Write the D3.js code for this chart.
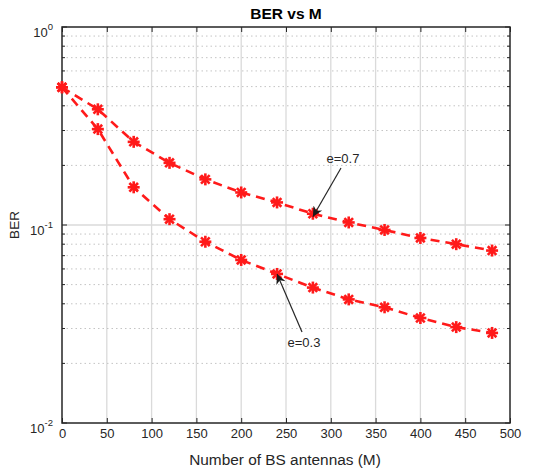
<!DOCTYPE html>
<html>
<head>
<meta charset="utf-8">
<script src="https://cdn.jsdelivr.net/npm/d3@7"></script>
<style>
  html, body { margin: 0; padding: 0; background: #fff; }
  svg { display: block; font-family: "Liberation Sans", Arial, sans-serif; }
</style>
</head>
<body>
<svg id="chart" width="534" height="474"></svg>
<script>
// Number of BS antennas
const antennas = [0, 40, 80, 120, 160, 200, 240, 280, 320, 360, 400, 440, 480];
// BER for each channel-estimation error level
const berE07 = [0.496, 0.384, 0.263, 0.206, 0.170, 0.146, 0.130, 0.114, 0.103, 0.0944, 0.086, 0.080, 0.0743];
const berE03 = [0.496, 0.305, 0.155, 0.107, 0.0823, 0.0666, 0.0566, 0.0483, 0.0421, 0.0384, 0.0339, 0.0305, 0.0285];
const xTicks = [0, 50, 100, 150, 200, 250, 300, 350, 400, 450, 500];
const yDecades = [-2, -1, 0];

const svg = d3.select("#chart");
const plotL = 62, plotR = 510, plotT = 27, plotB = 423;

const x = d3.scaleLinear().domain([0, 500]).range([plotL, plotR]);
const y = d3.scaleLog().domain([1e-2, 1]).range([plotB, plotT]);

const minorVals = [];
for (let d = -2; d < 0; d++) {
  for (let k = 2; k <= 9; k++) minorVals.push(k * Math.pow(10, d));
}

// grid
const grid = svg.append("g");
grid.selectAll(".vg").data(xTicks.slice(1, -1)).join("line")
  .attr("x1", d => x(d)).attr("x2", d => x(d))
  .attr("y1", plotT).attr("y2", plotB)
  .attr("stroke", "#dadada").attr("stroke-width", 1.3);
grid.selectAll(".mg").data(minorVals).join("line")
  .attr("x1", plotL).attr("x2", plotR)
  .attr("y1", d => y(d)).attr("y2", d => y(d))
  .attr("stroke", "#c4c4c4").attr("stroke-width", 1)
  .attr("stroke-dasharray", "1.5,3");
grid.selectAll(".hg").data([0.1]).join("line")
  .attr("x1", plotL).attr("x2", plotR)
  .attr("y1", d => y(d)).attr("y2", d => y(d))
  .attr("stroke", "#dadada").attr("stroke-width", 1.3);

// axes with inward ticks
const axisColor = "#262626";
function styleAxis(g) {
  g.select(".domain").remove();
  g.selectAll(".tick line").attr("stroke", axisColor).attr("stroke-width", 1);
  g.selectAll(".tick text").attr("fill", "#262626").attr("font-size", 13)
    .attr("font-family", "Liberation Sans, Arial, sans-serif");
}
svg.append("g").attr("transform", `translate(0,${plotB})`)
  .call(d3.axisBottom(x).tickValues(xTicks).tickSizeInner(-5).tickSizeOuter(0).tickPadding(6))
  .call(styleAxis);
svg.append("g").attr("transform", `translate(0,${plotT})`)
  .call(d3.axisTop(x).tickValues(xTicks).tickSizeInner(-5).tickSizeOuter(0).tickFormat(""))
  .call(styleAxis);

const majorY = yDecades.map(p => Math.pow(10, p));
[[plotL, 1], [plotR, -1]].forEach(([px, dir]) => {
  const g = svg.append("g");
  g.selectAll(".maj").data(majorY).join("line")
    .attr("x1", px).attr("x2", px + dir * 5)
    .attr("y1", d => y(d)).attr("y2", d => y(d))
    .attr("stroke", axisColor).attr("stroke-width", 1);
  g.selectAll(".min").data(minorVals).join("line")
    .attr("x1", px).attr("x2", px + dir * 3)
    .attr("y1", d => y(d)).attr("y2", d => y(d))
    .attr("stroke", axisColor).attr("stroke-width", 1);
});

// y tick labels as powers of ten
const yl = svg.append("g").attr("fill", "#262626").attr("font-size", 13);
yDecades.forEach(p => {
  const t = yl.append("text")
    .attr("x", plotL - 9).attr("y", y(Math.pow(10, p)) + 10)
    .attr("text-anchor", "end");
  t.append("tspan").text("10");
  t.append("tspan").attr("dy", -7).attr("font-size", 9.5).text(String(p));
});

// axes box
svg.append("rect")
  .attr("x", plotL).attr("y", plotT)
  .attr("width", plotR - plotL).attr("height", plotB - plotT)
  .attr("fill", "none").attr("stroke", axisColor).attr("stroke-width", 1.5);

// series
const line = d3.line().x(d => x(d[0])).y(d => y(d[1]));
const seriesList = [berE07, berE03];
seriesList.forEach(vals => {
  const pts = antennas.map((a, i) => [a, vals[i]]);
  svg.append("path").datum(pts)
    .attr("d", line)
    .attr("fill", "none").attr("stroke", "#ff1a1a")
    .attr("stroke-width", 2.6).attr("stroke-dasharray", "9,6");
  const m = svg.append("g").selectAll("g").data(pts).join("g")
    .attr("transform", d => `translate(${x(d[0])},${y(d[1])})`);
  const r = 6, rd = r * 0.72;
  [[-r, 0, r, 0], [0, -r, 0, r], [-rd, -rd, rd, rd], [-rd, rd, rd, -rd]].forEach(s => {
    m.append("line")
      .attr("x1", s[0]).attr("y1", s[1]).attr("x2", s[2]).attr("y2", s[3])
      .attr("stroke", "#ff1a1a").attr("stroke-width", 2.6);
  });
});

// annotations with arrows
svg.append("defs").append("marker")
  .attr("id", "ah").attr("viewBox", "0 0 10 10")
  .attr("refX", 10).attr("refY", 5)
  .attr("markerWidth", 14).attr("markerHeight", 10)
  .attr("markerUnits", "userSpaceOnUse")
  .attr("orient", "auto")
  .append("path").attr("d", "M0,0 L10,5 L0,10 L3,5 Z").attr("fill", "#1a1a1a");

function annotate(label, tx, ty, ax0, ay0, px, py) {
  svg.append("line")
    .attr("x1", ax0).attr("y1", ay0).attr("x2", px).attr("y2", py)
    .attr("stroke", "#262626").attr("stroke-width", 1.2)
    .attr("marker-end", "url(#ah)");
  svg.append("text").attr("x", tx).attr("y", ty)
    .attr("text-anchor", "middle").attr("font-size", 13).attr("fill", "#262626")
    .text(label);
}
annotate("e=0.7", 343, 163, 341, 168, x(280), y(berE07[7]) + 3);
annotate("e=0.3", 304, 347, 302, 332, x(240), y(berE03[6]));

// title and axis labels
svg.append("text").attr("x", 286).attr("y", 19)
  .attr("text-anchor", "middle").attr("font-size", 15.5).attr("font-weight", "bold")
  .attr("fill", "#000").text("BER vs M");
svg.append("text").attr("x", 285).attr("y", 465)
  .attr("text-anchor", "middle").attr("font-size", 15.4).attr("fill", "#262626")
  .text("Number of BS antennas (M)");
svg.append("text")
  .attr("transform", `translate(19,225) rotate(-90)`)
  .attr("text-anchor", "middle").attr("font-size", 13.5).attr("fill", "#262626")
  .text("BER");
</script>
</body>
</html>
